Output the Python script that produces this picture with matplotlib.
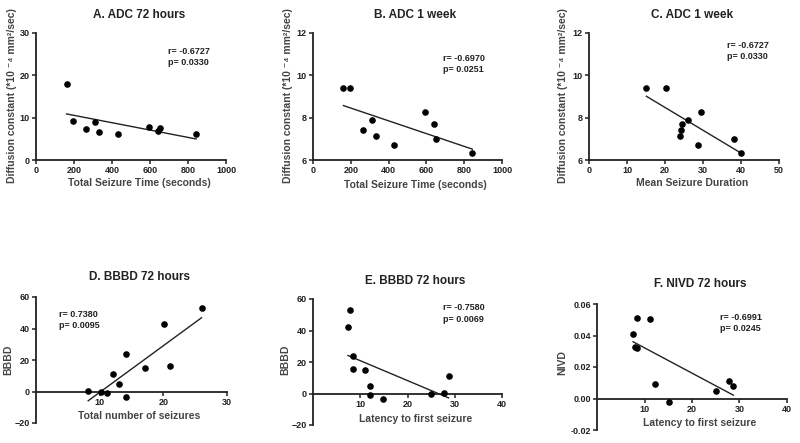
import numpy as np
import matplotlib.pyplot as plt

plt.rcParams['font.family'] = ['Liberation Sans', 'DejaVu Sans']
plt.rcParams['font.weight'] = 'bold'

# data
seizure_time = [161, 197, 264, 311, 334, 430, 593, 640, 652, 843]
adc_72h = [17.9, 9.2, 7.3, 9.0, 6.6, 6.2, 7.8, 6.8, 7.5, 6.1]
adc_1wk = [9.39, 9.41, 7.40, 7.89, 7.12, 6.72, 8.27, 7.72, 6.99, 6.31]
mean_duration = [15.1, 20.3, 24.2, 26.1, 23.9, 28.7, 29.5, 24.6, 38.2, 40.0]

n_seizures = [8.2, 10.2, 11.1, 12.1, 13.1, 14.1, 14.1, 17.1, 20.1, 21.0, 26.0]
bbbd_d = [0.4, -0.4, -1.0, 11.3, 5.0, 23.9, -3.4, 15.1, 42.8, 16.1, 53.3]

latency_e = [7.4, 7.9, 8.4, 8.4, 10.9, 12.0, 12.0, 14.9, 24.9, 27.7, 28.7]
bbbd_e = [42.5, 53.3, 24.0, 15.8, 14.9, 4.8, -1.1, -3.4, -0.2, 0.2, 11.2]

latency_f = [7.6, 8.5, 8.1, 8.5, 11.1, 12.2, 15.1, 25.0, 27.8, 28.7]
nivd = [0.0407, 0.0513, 0.0326, 0.0318, 0.0505, 0.0095, -0.0023, 0.0045, 0.0108, 0.0078]

adc_label = 'Diffusion constant (*10 \u207b\u2074 mm\u00b2/sec)'

panels = [
    # title, x, y, xlabel, ylabel, stats, xlim, xticks, ylim, yticks
    ('A. ADC 72 hours', seizure_time, adc_72h, 'Total Seizure Time (seconds)', adc_label,
     'r= -0.6727\np= 0.0330', (0, 1000), [0, 200, 400, 600, 800, 1000], (0, 30), [0, 10, 20, 30]),
    ('B. ADC 1 week', seizure_time, adc_1wk, 'Total Seizure Time (seconds)', adc_label,
     'r= -0.6970\np= 0.0251', (0, 1000), [0, 200, 400, 600, 800, 1000], (6, 12), [6, 8, 10, 12]),
    ('C. ADC 1 week', mean_duration, adc_1wk, 'Mean Seizure Duration', adc_label,
     'r= -0.6727\np= 0.0330', (0, 50), [0, 10, 20, 30, 40, 50], (6, 12), [6, 8, 10, 12]),
    ('D. BBBD 72 hours', n_seizures, bbbd_d, 'Total number of seizures', 'BBBD',
     'r= 0.7380\np= 0.0095', (0, 30), [10, 20, 30], (-20, 60), [-20, 0, 20, 40, 60]),
    ('E. BBBD 72 hours', latency_e, bbbd_e, 'Latency to first seizure', 'BBBD',
     'r= -0.7580\np= 0.0069', (0, 40), [10, 20, 30, 40], (-20, 60), [-20, 0, 20, 40, 60]),
    ('F. NIVD 72 hours', latency_f, nivd, 'Latency to first seizure', 'NIVD',
     'r= -0.6991\np= 0.0245', (0, 40), [10, 20, 30, 40], (-0.02, 0.06), [-0.02, 0.0, 0.02, 0.04, 0.06]),
]

# axes boxes in pixels: left, right, top, bottom
boxes = [(36, 226, 33, 160), (313, 502, 33, 160), (589, 779, 33, 160),
         (36, 227, 297, 423), (313, 502, 299, 425), (597, 787, 304, 430)]
# stats text position (axes fraction) and title / label positions (pixels)
stat_pos = [(0.695, 0.81), (0.688, 0.756), (0.726, 0.86), (0.12, 0.82), (0.69, 0.885), (0.647, 0.85)]
title_y = [15, 15, 15, 277, 281, 284]
xlab_y = [183, 185, 183, 416, 419, 423]
ylab_x = [12, 288, 563, 8, 285, 562]
ylab_y = [96, 96, 96, 360, 360, 363]

W, H = 800, 443
fig = plt.figure(figsize=(8, 4.43), dpi=100)
ink = '#222222'

for i, (title, xs, ys, xlab, ylab, stats, xlim, xticks, ylim, yticks) in enumerate(panels):
    l, r, t, b = boxes[i]
    ax = fig.add_axes([l / W, 1 - b / H, (r - l) / W, (b - t) / H])
    ax.scatter(xs, ys, s=14, color='black', zorder=3)

    # linear regression line over the data range
    k, c0 = np.polyfit(xs, ys, 1)
    xx = np.array([min(xs), max(xs)])
    ax.plot(xx, k * xx + c0, color=ink, lw=1.0)

    ax.set_xlim(*xlim)
    ax.set_ylim(*ylim)
    ax.set_xticks(xticks)
    ax.set_yticks(yticks)
    if i == 5:
        ax.set_yticklabels([f'{v:.2f}' for v in yticks])
    for s in ['top', 'right']:
        ax.spines[s].set_visible(False)
    for s in ['left', 'bottom']:
        ax.spines[s].set_linewidth(1.3)
        ax.spines[s].set_color(ink)
    if i >= 3:
        ax.spines['bottom'].set_position(('data', 0))
    ax.tick_params(direction='out', length=3, width=1.1, colors=ink, labelsize=6.5, pad=1.5)
    for lab in ax.get_xticklabels() + ax.get_yticklabels():
        lab.set_fontweight('bold')
    ax.patch.set_alpha(0)

    ax.text(stat_pos[i][0], stat_pos[i][1], stats, transform=ax.transAxes, fontsize=6.5,
            fontweight='bold', color=ink, va='center', ha='left', linespacing=1.3)

    cx = (l + r) / 2 / W + 0.01
    fig.text(cx, 1 - title_y[i] / H, title, ha='center', va='center', fontsize=8.5,
             fontweight='bold', color=ink)
    fig.text(cx, 1 - xlab_y[i] / H, xlab, ha='center', va='center', fontsize=7.5,
             fontweight='bold', color='#444444')
    fig.text(ylab_x[i] / W, 1 - ylab_y[i] / H, ylab, ha='center', va='center', rotation=90,
             fontsize=7.5, fontweight='bold', color='#444444')

fig.savefig('out.png', dpi=100, facecolor='white')
